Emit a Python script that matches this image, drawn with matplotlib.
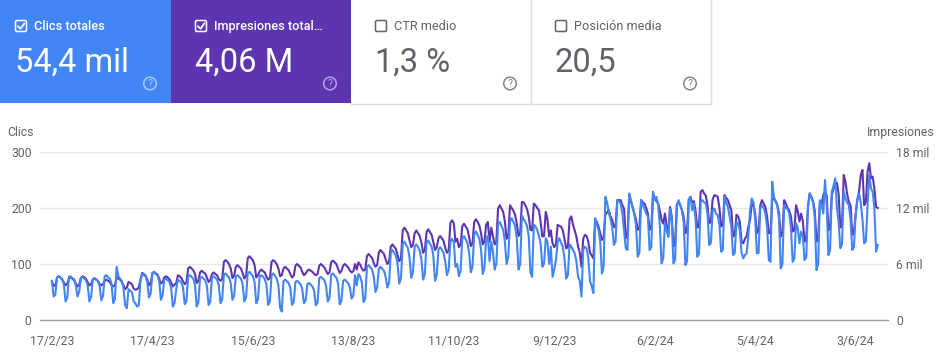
import numpy as np
import pandas as pd
import matplotlib
matplotlib.use("Agg")
import matplotlib.pyplot as plt
from matplotlib.patches import Rectangle, Circle, FancyBboxPatch

plt.rcParams['font.family'] = ['Roboto', 'DejaVu Sans']

# daily series, first day 17/2/23 (Fri); one row per Mon..Sun week
START = "2023-02-17"
clicks = [
    70, 42, 45,
    76, 78, 75, 72, 64, 33, 40,
    77, 78, 74, 73, 63, 42, 50,
    75, 77, 74, 71, 62, 33, 41,
    73, 75, 72, 70, 61, 35, 43,
    78, 80, 76, 74, 65, 30, 38,
    95, 78, 74, 70, 58, 26, 21,
    55, 52, 50, 33, 30, 24, 26,
    70, 82, 80, 78, 68, 40, 47,
    84, 86, 82, 80, 70, 36, 44,
    72, 74, 71, 68, 58, 24, 30,
    55, 72, 70, 67, 58, 28, 34,
    78, 80, 77, 74, 63, 24, 31,
    75, 77, 74, 71, 61, 27, 33,
    76, 78, 75, 72, 62, 30, 37,
    81, 83, 79, 76, 66, 36, 43,
    78, 80, 77, 74, 64, 33, 40,
    84, 86, 82, 79, 68, 30, 37,
    78, 80, 77, 73, 63, 27, 33,
    81, 83, 79, 74, 62, 22, 15,
    70, 72, 69, 66, 57, 27, 32,
    68, 70, 67, 64, 55, 30, 35,
    64, 66, 63, 60, 52, 26, 31,
    75, 77, 74, 71, 61, 33, 39,
    81, 83, 79, 76, 66, 28, 34,
    70, 72, 69, 66, 58, 38, 44,
    80, 62, 82, 78, 67, 32, 38,
    95, 98, 94, 90, 78, 50, 58,
    92, 95, 91, 88, 77, 58, 66,
    120, 125, 120, 115, 100, 65, 75,
    136, 140, 134, 129, 112, 75, 85,
    131, 135, 130, 124, 108, 72, 82,
    138, 142, 136, 131, 114, 70, 80,
    126, 130, 125, 120, 104, 80, 90,
    140, 145, 139, 95, 100, 78, 88,
    145, 150, 144, 138, 120, 85, 96,
    153, 158, 152, 145, 126, 82, 93,
    145, 150, 105, 140, 122, 90, 100,
    170, 175, 168, 161, 140, 100, 112,
    175, 182, 175, 168, 146, 90, 100,
    187, 180, 175, 168, 150, 85, 77,
    170, 167, 161, 150, 137, 95, 100,
    146, 140, 100, 131, 77, 90, 107,
    140, 146, 138, 131, 110, 74, 80,
    135, 131, 125, 119, 105, 77, 70,
    42, 125, 131, 128, 110, 70, 60,
    48, 182, 170, 161, 140, 83, 95,
    220, 210, 193, 180, 167, 134, 140,
    214, 212, 208, 190, 160, 128, 125,
    226, 215, 202, 190, 170, 113, 120,
    214, 205, 199, 190, 185, 125, 130,
    229, 215, 220, 205, 170, 101, 110,
    173, 160, 149, 199, 180, 101, 108,
    205, 214, 205, 196, 175, 98, 105,
    215, 220, 196, 208, 180, 113, 118,
    212, 214, 210, 208, 190, 134, 138,
    195, 199, 190, 187, 170, 122, 125,
    220, 210, 202, 185, 167, 116, 120,
    175, 173, 160, 120, 110, 116, 119,
    150, 196, 217, 210, 180, 119, 120,
    200, 205, 200, 190, 165, 107, 104,
    247, 220, 211, 205, 180, 92, 100,
    205, 200, 198, 190, 165, 104, 110,
    173, 165, 137, 158, 150, 107, 112,
    202, 226, 218, 210, 183, 89, 100,
    214, 205, 190, 250, 205, 116, 125,
    229, 240, 253, 200, 175, 128, 135,
    229, 217, 210, 205, 180, 125, 130,
    188, 215, 226, 210, 180, 137, 140,
    205, 259, 235, 229, 200, 122, 134,
]
impressions = [
    4080, 3720, 3600,
    4560, 4680, 4560, 4380, 4020, 3720, 3900,
    4440, 4560, 4440, 4260, 3900, 3600, 3780,
    4500, 4680, 4590, 4400, 4050, 3700, 3880,
    4320, 4440, 4320, 4200, 3840, 3720, 3840,
    4200, 4320, 4200, 4080, 3720, 3600, 3720,
    4560, 4440, 4320, 4080, 3720, 3300, 3480,
    4080, 3960, 3840, 3360, 3240, 3300, 3480,
    4320, 5040, 4920, 4740, 4320, 3720, 3960,
    5040, 5160, 4980, 4860, 4440, 3900, 4080,
    4560, 4680, 4560, 4380, 4020, 3600, 3780,
    3960, 4800, 4680, 4500, 4140, 3840, 4020,
    5520, 5700, 5520, 5340, 4920, 3960, 4200,
    5100, 5280, 5100, 4980, 4560, 4080, 4260,
    4920, 5100, 4920, 4800, 4380, 4200, 4380,
    6240, 6420, 6240, 6000, 5520, 4500, 4740,
    5700, 5880, 5700, 5520, 5040, 4440, 4680,
    6600, 6840, 6600, 6420, 5880, 4560, 4800,
    5220, 5400, 5220, 5100, 4620, 4320, 4500,
    6240, 6420, 6240, 6000, 5520, 4680, 4800,
    5520, 5700, 5520, 5340, 4920, 4560, 4740,
    5820, 6000, 5820, 5640, 5160, 4800, 4980,
    5280, 5400, 5280, 5160, 4920, 4800, 4920,
    5820, 6000, 5820, 5640, 5280, 4920, 5100,
    6180, 6360, 6180, 6000, 5520, 5040, 5220,
    5820, 6000, 5820, 5640, 5280, 5100, 5220,
    6000, 5400, 6180, 5940, 5520, 5280, 5400,
    6840, 7080, 6840, 6660, 6120, 5700, 5880,
    7260, 7500, 7260, 7080, 6480, 6000, 6240,
    7860, 8100, 7860, 7620, 6960, 6300, 6600,
    9600, 9900, 9600, 9300, 8520, 7800, 8040,
    9300, 9600, 9300, 9000, 8280, 7200, 7500,
    9420, 9720, 9420, 9120, 8340, 7500, 7800,
    8760, 9000, 8760, 8460, 7740, 7200, 7440,
    10380, 10680, 10380, 8400, 8700, 7800, 8100,
    10020, 10320, 10020, 9720, 8880, 7920, 8220,
    10500, 10800, 10500, 10140, 9300, 8100, 8400,
    10200, 10500, 8400, 9900, 9000, 8100, 8400,
    11940, 12300, 11940, 11580, 10560, 8700, 9000,
    12300, 12000, 11700, 11280, 10320, 9000, 9300,
    12660, 12600, 12300, 11880, 11100, 9660, 9600,
    12480, 12300, 12000, 11760, 10500, 8940, 9000,
    11580, 10800, 8940, 9600, 8220, 7800, 8100,
    10200, 10080, 10020, 9600, 8700, 7680, 7800,
    10800, 11100, 10200, 9600, 8940, 7860, 7200,
    5700, 8700, 9120, 9000, 8400, 7200, 6900,
    6600, 10740, 10500, 10020, 9300, 8580, 8880,
    11280, 11520, 11760, 11100, 10740, 10020, 9900,
    12840, 12840, 12840, 12300, 11940, 8760, 9000,
    13200, 12720, 12120, 11400, 10800, 9660, 9900,
    12840, 12600, 12480, 12000, 11400, 9660, 9900,
    13560, 13080, 12720, 12480, 11700, 10740, 10320,
    11400, 10200, 8940, 12120, 11100, 7860, 8400,
    12300, 12660, 12300, 11760, 11100, 9300, 9600,
    12900, 13200, 12600, 12720, 11700, 9900, 10080,
    13740, 13920, 13560, 13320, 12300, 10380, 10500,
    12900, 13380, 13320, 13200, 12000, 10020, 10200,
    13380, 13080, 12840, 12300, 11760, 8940, 9120,
    11280, 11100, 10500, 8400, 8220, 8700, 9000,
    10020, 10740, 12480, 12300, 11400, 9300, 9600,
    12300, 12840, 12480, 12120, 11100, 9300, 9300,
    12900, 13020, 12720, 12300, 11400, 8940, 9300,
    12840, 12480, 12000, 11760, 11100, 9480, 9600,
    12300, 11700, 10560, 11400, 10560, 8400, 8700,
    12120, 13560, 13200, 12720, 11700, 8400, 8880,
    12660, 12300, 13380, 13800, 13380, 9600, 9900,
    13380, 14100, 14400, 14700, 13500, 9900, 10200,
    15540, 14820, 13500, 12660, 12300, 9120, 9480,
    11280, 12900, 13740, 15540, 16080, 12300, 12600,
    15900, 16800, 15180, 15360, 14100, 12120, 12000,
]

card_titles = ["Clics totales", "Impresiones total\u2026", "CTR medio", "Posición media"]
card_values = ["54,4 mil", "4,06 M", "1,3 %", "20,5"]
card_checked = [True, True, False, False]
card_colors = ["#4285f4", "#5e35b1", "white", "white"]

tick_dates = ["2023-02-17", "2023-04-17", "2023-06-15", "2023-08-13", "2023-10-11",
              "2023-12-09", "2024-02-06", "2024-04-05", "2024-06-03"]
tick_labels = ["17/2/23", "17/4/23", "15/6/23", "13/8/23", "11/10/23",
               "9/12/23", "6/2/24", "5/4/24", "3/6/24"]
clicks_ticks = [0, 100, 200, 300]
impr_ticks = [0, 6000, 12000, 18000]
impr_tick_labels = ["0", "6 mil", "12 mil", "18 mil"]

BLUE = "#4285f4"
PURPLE = "#5e35b1"
GRAY = "#5f6368"
W, H = 943, 364

fig = plt.figure(figsize=(W / 100, H / 100), dpi=100)

# --- summary cards (pixel coordinates) ---
bg = fig.add_axes([0, 0, 1, 1])
bg.set_xlim(0, W)
bg.set_ylim(H, 0)
bg.axis("off")

card_w, card_h = 180, 103
for i, (title, value, checked, color) in enumerate(zip(card_titles, card_values, card_checked, card_colors)):
    x0 = -9 + i * card_w
    bg.add_patch(Rectangle((x0, 0), card_w, card_h, facecolor=color, edgecolor="none"))
    fg = "white" if checked else GRAY
    # checkbox
    bg.add_patch(FancyBboxPatch((x0 + 24.5, 20.5), 11, 11, boxstyle="round,pad=0,rounding_size=1.5",
                                facecolor="none", edgecolor=fg, lw=1.1))
    if checked:
        bg.plot([x0 + 27, x0 + 29.5, x0 + 33.5], [26.3, 28.8, 23.3], color="white", lw=1.3,
                solid_capstyle="round", solid_joinstyle="round")
    bg.text(x0 + 43, 30, title, color=fg, fontsize=9.2, va="baseline", ha="left",
            fontweight="medium" if checked else "normal")
    bg.text(x0 + 24, 72, value, color=fg, fontsize=23.5, va="baseline", ha="left")
    qc = (1, 1, 1, 0.55) if checked else "#80868b"
    bg.add_patch(Circle((x0 + 159, 83.5), 6.3, facecolor="none", edgecolor=qc, lw=1.1))
    bg.text(x0 + 159, 84, "?", color=qc, fontsize=7.5, ha="center", va="center")

# borders of the white cards
bord = "#dadce0"
bg.plot([351, 711], [103.5, 103.5], color=bord, lw=1)
bg.plot([531, 531], [0, 103.5], color=bord, lw=1)
bg.plot([710.5, 710.5], [0, 103.5], color=bord, lw=1)

# --- chart ---
ax = fig.add_axes([40 / W, 1 - 320 / H, 848 / W, 168 / H])
ax2 = ax.twinx()

dates_c = pd.date_range(START, periods=len(clicks), freq="D")
dates_i = pd.date_range(START, periods=len(impressions), freq="D")

ax2.plot(dates_i, impressions, color=PURPLE, lw=1.5, solid_joinstyle="round")
ax.plot(dates_c, clicks, color=BLUE, lw=1.5, solid_joinstyle="round")

ax.set_zorder(ax2.get_zorder() + 1)
ax.patch.set_visible(False)

ax.set_ylim(0, 300)
ax2.set_ylim(0, 18000)
ax.set_xlim(dates_c[0] - pd.Timedelta(days=7), dates_c[-1] + pd.Timedelta(days=6))

ax.set_yticks(clicks_ticks)
ax2.set_yticks(impr_ticks)
ax2.set_yticklabels(impr_tick_labels)
ax.set_xticks(pd.to_datetime(tick_dates))
ax.set_xticklabels(tick_labels)

ax2.yaxis.grid(True, color="#e8e8e8", lw=1)
ax2.set_axisbelow(True)
for a in (ax, ax2):
    for s in a.spines.values():
        s.set_visible(False)
    a.tick_params(length=0, labelsize=8.8, labelcolor=GRAY)
ax.spines["bottom"].set_visible(True)
ax.spines["bottom"].set_color("#9aa0a6")
ax.spines["bottom"].set_linewidth(1)
ax.tick_params(axis="y", pad=6)
ax2.tick_params(axis="y", pad=6)
ax.tick_params(axis="x", pad=11)

bg.text(7, 136, "Clics", color=GRAY, fontsize=8.8, ha="left", va="baseline")
bg.text(935, 136, "Impresiones", color=GRAY, fontsize=8.8, ha="right", va="baseline")

fig.savefig("out.png", dpi=100)
